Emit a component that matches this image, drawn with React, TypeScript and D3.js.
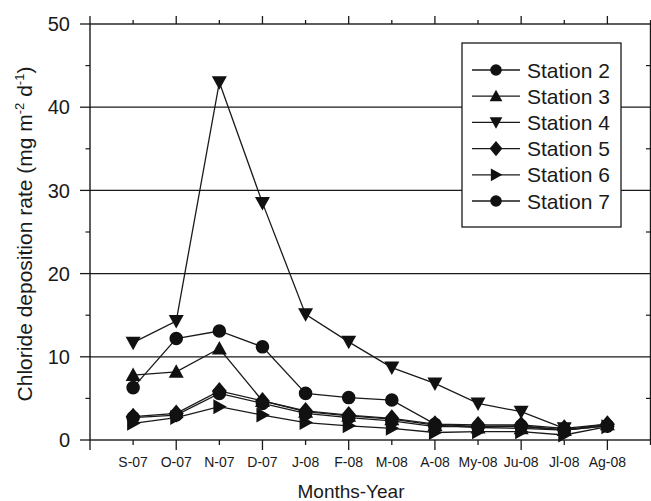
import * as d3 from "d3";

// Month labels along the x axis
const months = ["S-07", "O-07", "N-07", "D-07", "J-08", "F-08", "M-08", "A-08", "My-08", "Ju-08", "Jl-08", "Ag-08"];

// Chloride deposition rate per station (mg m-2 d-1)
const station2 = [6.3, 12.2, 13.1, 11.2, 5.6, 5.1, 4.8, 1.9, 1.6, 1.7, 1.2, 1.7];
const station3 = [7.8, 8.2, 11.0, 4.7, 3.4, 2.9, 2.5, 1.8, 1.5, 1.4, 1.2, 1.9];
const station4 = [11.7, 14.3, 43.0, 28.5, 15.1, 11.8, 8.7, 6.8, 4.4, 3.4, 1.4, null];
const station5 = [2.8, 3.2, 5.9, 4.7, 3.5, 3.0, 2.6, 1.9, 1.8, 1.8, 1.4, 1.9];
const station6 = [2.0, 2.7, 4.0, 3.0, 2.1, 1.7, 1.4, 0.9, 1.0, 1.0, 0.6, 1.6];
const station7 = [2.7, 3.0, 5.6, 4.4, 3.2, 2.7, 2.3, 1.6, 1.6, 1.6, 1.2, 1.7];

const stationNames = ["Station 2", "Station 3", "Station 4", "Station 5", "Station 6", "Station 7"];
const stationShapes = ["circle", "up", "down", "diamond", "right", "circle"];
const stationValues = [station2, station3, station4, station5, station6, station7];

const yMajorTicks = [0, 10, 20, 30, 40, 50];
const yMinorTicks = [5, 15, 25, 35, 45];

const width = 651;
const height = 501;
const FONT = "'Liberation Sans', Arial, Helvetica, sans-serif";
const INK = "#1a1a1a";

// marker outline centred on 0,0
function markerPath(shape: string, k: number) {
  const p = d3.path();
  if (shape === "circle") {
    p.arc(0, 0, 6.8 * k, 0, Math.PI * 2);
  } else if (shape === "up") {
    p.moveTo(0, -7.5 * k);
    p.lineTo(7.5 * k, 6 * k);
    p.lineTo(-7.5 * k, 6 * k);
  } else if (shape === "down") {
    p.moveTo(0, 7.5 * k);
    p.lineTo(7.5 * k, -6 * k);
    p.lineTo(-7.5 * k, -6 * k);
  } else if (shape === "diamond") {
    p.moveTo(0, -9 * k);
    p.lineTo(7.5 * k, 0);
    p.lineTo(0, 9 * k);
    p.lineTo(-7.5 * k, 0);
  } else {
    p.moveTo(7.5 * k, 0);
    p.lineTo(-6 * k, -7.5 * k);
    p.lineTo(-6 * k, 7.5 * k);
  }
  p.closePath();
  return p.toString();
}

export default function App() {
  const xScale = d3.scaleLinear().domain([0, 13]).range([90, 650.5]);
  const yScale = d3.scaleLinear().domain([0, 50]).range([440, 24]);
  const xTicks = d3.range(0, 14);

  const line = d3
    .line<number | null>()
    .defined((d) => d !== null)
    .x((_, i) => xScale(i + 1))
    .y((d) => yScale(d as number));

  const left = xScale(0);
  const right = xScale(13);
  const top = yScale(50);
  const bottom = yScale(0);

  return (
    <svg width={width} height={height} style={{ position: "absolute", left: 0, top: 0, background: "#fff" }} fontFamily={FONT}>
      <rect x={0} y={0} width={width} height={height} fill="#fff" />

      {/* horizontal grid lines */}
      {yMajorTicks.slice(1, -1).map((t) => (
        <line key={"g" + t} x1={left} x2={right} y1={yScale(t)} y2={yScale(t)} stroke={INK} strokeWidth={1.3} />
      ))}

      {/* frame */}
      <rect x={left} y={top} width={right - left} height={bottom - top} fill="none" stroke={INK} strokeWidth={1.4} />

      {/* y axis ticks and labels */}
      {yMajorTicks.map((t) => (
        <g key={"y" + t}>
          <line x1={left - 10} x2={left} y1={yScale(t)} y2={yScale(t)} stroke={INK} strokeWidth={1.3} />
          <text x={left - 20} y={yScale(t)} dy="0.36em" textAnchor="end" fontSize={20} fill={INK}>
            {t}
          </text>
        </g>
      ))}
      {yMinorTicks.map((t) => (
        <g key={"ym" + t}>
          <line x1={left - 4.5} x2={left} y1={yScale(t)} y2={yScale(t)} stroke={INK} strokeWidth={1.2} />
          <line x1={right - 4.5} x2={right} y1={yScale(t)} y2={yScale(t)} stroke={INK} strokeWidth={1.2} />
        </g>
      ))}

      {/* x axis ticks (bottom and top) */}
      {xTicks.map((i) => {
        const len = i % 2 === 0 ? 10 : 5;
        return (
          <g key={"x" + i}>
            <line x1={xScale(i)} x2={xScale(i)} y1={bottom} y2={bottom + len} stroke={INK} strokeWidth={1.3} />
            <line x1={xScale(i)} x2={xScale(i)} y1={top} y2={top - len * 0.8} stroke={INK} strokeWidth={1.3} />
          </g>
        );
      })}
      {months.map((m, i) => (
        <text key={m} x={xScale(i + 1)} y={467} textAnchor="middle" fontSize={14} fill={INK}>
          {m}
        </text>
      ))}

      {/* axis titles */}
      <text x={351} y={498} textAnchor="middle" fontSize={19} fill={INK}>
        Months-Year
      </text>
      <text transform="translate(32,234) rotate(-90)" textAnchor="middle" fontSize={21} fill={INK}>
        Chloride deposition rate (mg m
        <tspan fontSize={13} dy={-8}>-2</tspan>
        <tspan dy={8}> d</tspan>
        <tspan fontSize={13} dy={-8}>-1</tspan>
        <tspan dy={8}>)</tspan>
      </text>

      {/* series */}
      {stationValues.map((vals, s) => (
        <g key={stationNames[s]}>
          <path d={line(vals) || ""} fill="none" stroke={INK} strokeWidth={1.3} />
          {vals.map((v, i) =>
            v === null ? null : (
              <path
                key={i}
                d={markerPath(stationShapes[s], 1)}
                transform={`translate(${xScale(i + 1)},${yScale(v)})`}
                fill="#111"
              />
            )
          )}
        </g>
      ))}

      {/* legend */}
      <g>
        <rect x={462} y={43} width={159} height={184} fill="#fff" stroke={INK} strokeWidth={1.3} />
        {stationNames.map((name, s) => {
          const yy = 70 + s * 26.2;
          return (
            <g key={"lg" + name}>
              <line x1={472} x2={520} y1={yy} y2={yy} stroke={INK} strokeWidth={1.3} />
              <path d={markerPath(stationShapes[s], 0.85)} transform={`translate(496,${yy})`} fill="#111" />
              <text x={527} y={yy} dy="0.36em" fontSize={21} fill={INK}>
                {name}
              </text>
            </g>
          );
        })}
      </g>
    </svg>
  );
}
